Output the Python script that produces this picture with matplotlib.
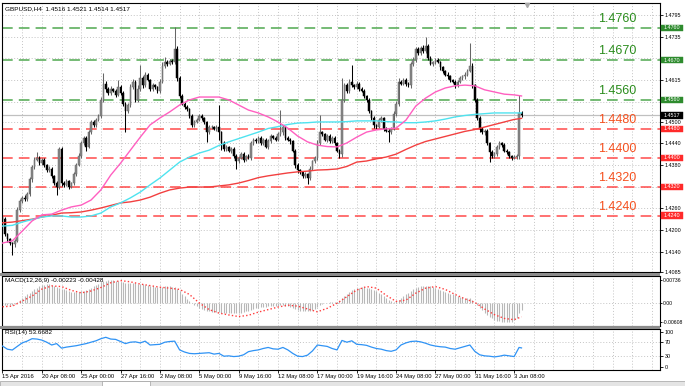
import numpy as np
import matplotlib
matplotlib.use("Agg")
import matplotlib.pyplot as plt
from matplotlib.transforms import blended_transform_factory
from matplotlib.patches import Rectangle

plt.rcParams['font.family'] = ['Liberation Sans', 'DejaVu Sans']

# ---------------- data ----------------
open0 = 1.4235
closes = [
    1.4230, 1.4190, 1.4175, 1.4165, 1.4160, 1.4170, 1.4255, 1.4280, 1.4290, 1.4285, 1.4300, 1.4340, 1.4375, 1.4395, 1.4400, 1.4385,
    1.4395, 1.4380, 1.4365, 1.4370, 1.4350, 1.4330, 1.4320, 1.4425, 1.4330, 1.4325, 1.4335, 1.4320, 1.4330, 1.4355, 1.4380, 1.4405,
    1.4440, 1.4455, 1.4430, 1.4470, 1.4500, 1.4490, 1.4505, 1.4515, 1.4560, 1.4605, 1.4590, 1.4580, 1.4590, 1.4585, 1.4575, 1.4595,
    1.4580, 1.4550, 1.4530, 1.4545, 1.4595, 1.4610, 1.4560, 1.4590, 1.4620, 1.4600, 1.4630, 1.4615, 1.4590, 1.4600, 1.4595, 1.4585,
    1.4610, 1.4655, 1.4665, 1.4660, 1.4668, 1.4665, 1.4700, 1.4620, 1.4570, 1.4550, 1.4540, 1.4535, 1.4515, 1.4490, 1.4500, 1.4505,
    1.4515, 1.4510, 1.4500, 1.4470, 1.4485, 1.4485, 1.4480, 1.4485, 1.4470, 1.4440, 1.4425, 1.4430, 1.4420, 1.4425, 1.4405, 1.4390,
    1.4400, 1.4410, 1.4395, 1.4405, 1.4400, 1.4440, 1.4450, 1.4445, 1.4455, 1.4440, 1.4450, 1.4430, 1.4445, 1.4460, 1.4455, 1.4450,
    1.4465, 1.4470, 1.4485, 1.4455, 1.4450, 1.4445, 1.4420, 1.4380, 1.4365, 1.4360, 1.4350, 1.4355, 1.4345, 1.4370, 1.4390, 1.4400,
    1.4440, 1.4470, 1.4465, 1.4450, 1.4460, 1.4445, 1.4455, 1.4440, 1.4420, 1.4410, 1.4560, 1.4600, 1.4585, 1.4610, 1.4600, 1.4595,
    1.4605, 1.4590, 1.4585, 1.4570, 1.4560, 1.4530, 1.4510, 1.4490, 1.4485, 1.4505, 1.4510, 1.4480, 1.4475, 1.4470, 1.4480, 1.4520,
    1.4550, 1.4610, 1.4605, 1.4615, 1.4605, 1.4600, 1.4660, 1.4670, 1.4700, 1.4690, 1.4705, 1.4695, 1.4710, 1.4675, 1.4660, 1.4665,
    1.4670, 1.4665, 1.4650, 1.4640, 1.4630, 1.4625, 1.4615, 1.4610, 1.4600, 1.4610, 1.4620, 1.4625, 1.4630, 1.4640, 1.4655, 1.4600,
    1.4560, 1.4510, 1.4480, 1.4470, 1.4475, 1.4440, 1.4415, 1.4405, 1.4410, 1.4430, 1.4440, 1.4435, 1.4420, 1.4415, 1.4405, 1.4400,
    1.4402, 1.4405, 1.4525, 1.4517,
]
upper_wick_pips = [
    4, 5, 3, 4, 3, 6, 8, 5, 4, 6, 5, 6, 5, 7, 16, 4,
    5, 4, 3, 6, 4, 3, 5, 5, 4, 5, 6, 3, 4, 6, 5, 7,
    6, 5, 4, 6, 5, 4, 6, 7, 8, 30, 6, 5, 8, 4, 5, 20,
    5, 4, 5, 6, 8, 7, 4, 10, 37, 6, 8, 5, 4, 6, 5, 4,
    8, 10, 15, 6, 5, 6, 62, 8, 5, 6, 4, 5, 4, 6, 5, 4,
    6, 5, 4, 3, 5, 6, 4, 5, 61, 4, 5, 4, 3, 5, 4, 5,
    4, 6, 5, 4, 5, 6, 5, 4, 6, 5, 4, 5, 6, 5, 4, 5,
    6, 62, 5, 4, 5, 4, 3, 4, 5, 4, 3, 5, 4, 6, 5, 6,
    8, 48, 5, 4, 6, 5, 4, 5, 4, 5, 60, 8, 6, 7, 47, 5,
    8, 5, 6, 4, 5, 4, 3, 5, 4, 6, 5, 4, 5, 4, 6, 8,
    8, 10, 6, 5, 7, 5, 6, 8, 6, 7, 5, 6, 25, 5, 6, 4,
    5, 6, 4, 5, 4, 6, 5, 4, 5, 6, 5, 4, 6, 5, 63, 6,
    5, 4, 6, 5, 4, 5, 4, 6, 5, 6, 5, 4, 5, 4, 5, 4,
    5, 6, 48, 4,
]
lower_wick_pips = [
    5, 6, 8, 6, 29, 7, 4, 5, 6, 5, 4, 5, 6, 5, 4, 6,
    5, 6, 5, 4, 5, 6, 23, 6, 8, 5, 4, 6, 5, 4, 5, 4,
    5, 6, 10, 4, 5, 6, 5, 4, 6, 5, 8, 6, 5, 4, 6, 5,
    6, 7, 59, 5, 4, 6, 7, 5, 4, 6, 5, 4, 6, 5, 4, 6,
    5, 4, 6, 5, 4, 5, 6, 8, 6, 5, 4, 5, 6, 5, 4, 5,
    4, 5, 6, 27, 4, 5, 4, 6, 20, 19, 6, 5, 4, 6, 5, 20,
    5, 4, 6, 5, 4, 5, 6, 5, 4, 6, 5, 4, 6, 5, 4, 5,
    4, 5, 6, 5, 4, 6, 5, 8, 6, 5, 6, 5, 18, 6, 5, 4,
    5, 6, 4, 5, 6, 5, 4, 6, 5, 10, 8, 6, 5, 6, 5, 4,
    5, 6, 4, 5, 6, 5, 6, 7, 5, 4, 5, 6, 5, 27, 5, 4,
    5, 6, 5, 4, 6, 5, 6, 5, 4, 6, 5, 4, 6, 5, 4, 6,
    5, 4, 6, 5, 4, 6, 5, 4, 6, 5, 4, 5, 6, 5, 4, 6,
    5, 6, 8, 5, 6, 4, 28, 6, 5, 4, 6, 5, 4, 5, 6, 5,
    4, 5, 8, 4,
]

# moving averages, sampled every 4 bars plus the last bar
ma_pink = [1.4164, 1.4170, 1.4197, 1.4225, 1.4242, 1.4244, 1.4255, 1.4264, 1.4269, 1.4283,
           1.4311, 1.4352, 1.4385, 1.4421, 1.4457, 1.4491, 1.4510, 1.4527, 1.4546, 1.4560,
           1.4568, 1.4568, 1.4568, 1.4560, 1.4546, 1.4532, 1.4524, 1.4513, 1.4499, 1.4482,
           1.4460, 1.4444, 1.4435, 1.4431, 1.4430, 1.4441, 1.4457, 1.4471, 1.4477, 1.4480,
           1.4482, 1.4504, 1.4543, 1.4565, 1.4582, 1.4593, 1.4599, 1.4601, 1.4599, 1.4588,
           1.4582, 1.4576, 1.4574, 1.4571]
ma_cyan = [1.4211, 1.4213, 1.4222, 1.4229, 1.4236, 1.4239, 1.4239, 1.4236, 1.4236, 1.4239,
           1.4247, 1.4264, 1.4275, 1.4289, 1.4305, 1.4325, 1.4344, 1.4366, 1.4388, 1.4402,
           1.4413, 1.4421, 1.4434, 1.4444, 1.4453, 1.4462, 1.4471, 1.4481, 1.4486, 1.4492,
           1.4496, 1.4497, 1.4499, 1.4499, 1.4499, 1.4500, 1.4502, 1.4502, 1.4502, 1.4500,
           1.4499, 1.4497, 1.4497, 1.4499, 1.4502, 1.4507, 1.4513, 1.4517, 1.4520, 1.4522,
           1.4524, 1.4524, 1.4524, 1.4524]
ma_red = [1.4220, 1.4222, 1.4226, 1.4230, 1.4236, 1.4241, 1.4247, 1.4248, 1.4250, 1.4255,
          1.4261, 1.4268, 1.4275, 1.4278, 1.4283, 1.4291, 1.4302, 1.4311, 1.4316, 1.4319,
          1.4319, 1.4319, 1.4322, 1.4325, 1.4330, 1.4337, 1.4345, 1.4350, 1.4354, 1.4358,
          1.4361, 1.4363, 1.4366, 1.4367, 1.4369, 1.4376, 1.4388, 1.4391, 1.4397, 1.4402,
          1.4410, 1.4423, 1.4435, 1.4445, 1.4452, 1.4459, 1.4466, 1.4473, 1.4478, 1.4485,
          1.4492, 1.4499, 1.4506, 1.4509]

# MACD main (histogram), per bar, in units of 1e-4
macd_e4 = [
    -5, -6, -6, -5, -4, -2, 5, 10, 16, 22, 28, 34, 40, 46, 50, 54,
    57, 59, 60, 60, 58, 55, 52, 50, 46, 44, 41, 39, 37, 36, 36, 37,
    38, 40, 42, 45, 50, 54, 58, 62, 66, 70, 72, 73.6, 73.6, 73, 71, 70,
    68, 66, 64, 63, 63, 64, 63, 62, 61, 60, 59, 58, 56, 54, 53, 52,
    52, 53, 54, 54, 54, 53, 52, 46, 38, 30, 22, 14, 8, 1, -5, -10,
    -14, -18, -21, -24, -26, -27, -28, -29, -29, -30, -31, -31, -32, -32, -32, -32,
    -31, -30, -28, -26, -23, -20, -18, -16, -14, -13, -12, -11, -10, -9, -9, -8,
    -8, -7, -7, -8, -10, -12, -15, -18, -21, -23, -25, -26, -26, -24, -21, -17,
    -12, -7, -3, 0, 2, 3, 4, 4, 5, 8, 16, 24, 31, 37, 42, 45,
    48, 50, 51, 51, 50, 48, 46, 43, 39, 34, 28, 22, 16, 11, 7, 5,
    6, 10, 16, 22, 28, 34, 40, 46, 50, 53, 55, 56, 56, 55, 54, 52,
    49, 46, 43, 40, 37, 34, 31, 28, 25, 22, 20, 19, 18, 17, 16, 10,
    2, -6, -14, -22, -30, -37, -43, -48, -52, -55, -57, -59, -60, -60.8, -60, -58,
    -54, -46, -30, -22.3,
]
# MACD signal, every 4 bars plus last bar, units of 1e-4
signal_e4 = [-11, -9, 7, 23, 45, 55, 53, 41, 33, 39, 50, 65, 72, 68, 61, 56, 51, 48, 44, 28,
             1, -20, -31, -37, -42, -38, -28, -20, -12, -6, -9, -18, -27, -16, 0, 21, 42, 53,
             48, 25, 6, 10, 32, 48, 53, 44, 28, 14, 3, -18, -36, -48, -52, -42.8]

# RSI(14), every 2 bars plus last bar
rsi = [59, 50, 47.7, 58, 68, 73, 80, 79, 76, 70, 62, 66, 53, 56, 58, 60,
       63, 66, 70, 74, 80, 84, 79, 78, 72, 66, 70, 71, 68, 73, 62, 63,
       64, 70, 72, 73, 48, 42, 38, 37, 38, 39, 40, 36, 38, 30, 31, 29,
       30, 34, 43, 46, 48, 52, 55, 51, 50, 55, 48, 38, 30, 29, 33, 45,
       62, 60, 58, 52, 48, 75, 70, 74, 64, 63, 61, 56, 52, 50, 46, 44,
       48, 62, 68, 72, 73, 71, 67, 62, 59, 57, 56, 52, 50, 54, 58, 62,
       44, 34, 31, 30, 28, 30, 33, 31, 29, 55, 53.6682]

green_levels = [1.4760, 1.4670, 1.4560]
red_levels = [1.4480, 1.4400, 1.4320, 1.4240]
last_price = 1.4517
price_ticks = [1.4795, 1.4735, 1.4675, 1.4615, 1.4555, 1.4500, 1.4440, 1.4380, 1.4320,
               1.4260, 1.4200, 1.4140, 1.4085]
price_tick_labels = ["1.4795", "1.4735", "", "1.4615", "", "1.4500", "1.4440", "1.4380", "",
                     "1.4260", "1.4200", "1.4140", "1.4085"]
time_labels = ["15 Apr 2016", "20 Apr 08:00", "25 Apr 00:00", "27 Apr 16:00", "2 May 08:00",
               "5 May 00:00", "9 May 16:00", "12 May 08:00", "17 May 00:00", "19 May 16:00",
               "24 May 08:00", "27 May 00:00", "31 May 16:00", "3 Jun 08:00"]
header = "GBPUSD,H4  1.4516 1.4521 1.4514 1.4517"

# ---------------- derived ----------------
closes = np.array(closes)
n = len(closes)
idx = np.arange(n)
opens = np.concatenate([[open0], closes[:-1]])
highs = np.maximum(opens, closes) + np.array(upper_wick_pips) * 1e-4
lows = np.minimum(opens, closes) - np.array(lower_wick_pips) * 1e-4
ma_idx = np.concatenate([np.arange(0, n - 3, 4), [n - 1]])
rsi_idx = np.concatenate([np.arange(0, n - 1, 2), [n - 1]])
macd = np.array(macd_e4) * 1e-4
signal = np.array(signal_e4) * 1e-4

# ---------------- figure ----------------
W, H = 685, 386
fig = plt.figure(figsize=(W / 100, H / 100), dpi=100)
fig.patch.set_facecolor('white')

def fy(py):
    return 1 - py / H

L, R = 2, 660
ax = fig.add_axes([L / W, fy(272), (R - L) / W, (272 - 3) / H])
axm = fig.add_axes([L / W, fy(326), (R - L) / W, (326 - 276) / H], sharex=ax)
axr = fig.add_axes([L / W, fy(370), (R - L) / W, (370 - 329) / H], sharex=ax)

ax.set_xlim(-0.2, 267.3)
ax.set_ylim(1.40839, 1.48282)
axm.set_ylim(-0.0072, 0.00865)
axr.set_ylim(-9.4, 107.7)

grid_kw = dict(color='#c4c4c4', lw=0.7, ls=(0, (1, 2)), zorder=0.5)
vgrid = np.arange(8, 268, 8)
for a in (ax, axm, axr):
    for g in vgrid:
        a.axvline(g, **grid_kw)
    for s in a.spines.values():
        s.set_color('black')
        s.set_linewidth(0.8)
    a.set_facecolor('white')

for p in price_ticks[:-1]:
    ax.axhline(p, **grid_kw)
axm.axhline(0, **grid_kw)
axr.axhline(70, **grid_kw)
axr.axhline(30, **grid_kw)

# level lines
for lv in green_levels:
    ax.axhline(lv, color='#4fa84f', lw=1.1, ls=(0, (7, 4)), zorder=1.5)
for lv in red_levels:
    ax.axhline(lv, color='#ff4a4a', lw=1.1, ls=(0, (7, 4)), zorder=1.5)
ax.axhline(last_price, color='#c0c0c0', lw=0.9, zorder=1.2)

# candles
bull = closes >= opens
wick_cols = np.where(bull, '#666666', '#000000')
body_cols = np.where(bull, '#888888', '#000000')
ax.vlines(idx, lows, highs, colors=wick_cols, lw=0.75, zorder=2)
heights = closes - opens
heights = np.where(np.abs(heights) < 0.00008, 0.00008, heights)
ax.bar(idx, heights, bottom=opens, width=0.66, color=body_cols,
       edgecolor=wick_cols, linewidth=0.35, zorder=2.1)

# moving averages
ax.plot(ma_idx, ma_red, color='#f24040', lw=1.0, zorder=3)
ax.plot(ma_idx, ma_cyan, color='#4fe3ef', lw=1.0, zorder=3)
ax.plot(ma_idx, ma_pink, color='#ff5fc0', lw=1.0, zorder=3)

# level text labels
btr = blended_transform_factory(ax.transAxes, ax.transData)
for lv in green_levels:
    ax.annotate(f"{lv:.4f}", xy=((598 - L) / (R - L), lv), xycoords=btr,
                xytext=(0, 2.2), textcoords='offset points', ha='left', va='bottom',
                fontsize=9, color='#2a8c1c', zorder=6)
for lv in red_levels:
    ax.annotate(f"{lv:.4f}", xy=((598 - L) / (R - L), lv), xycoords=btr,
                xytext=(0, 2.2), textcoords='offset points', ha='left', va='bottom',
                fontsize=9, color='#f5501e', zorder=6)

# right axis
ax.yaxis.tick_right()
ax.set_yticks(price_ticks)
ax.set_yticklabels(price_tick_labels)
ax.tick_params(axis='y', labelsize=3.9, length=2, pad=1.2, width=0.6)
ax.tick_params(axis='x', bottom=False, labelbottom=False)

box_h = 6.2 / 269 * (1.48282 - 1.40839)
def price_box(price, color):
    x0 = (661 - L) / (R - L)
    wdt = (683 - 661) / (R - L)
    ax.add_patch(Rectangle((x0, price - box_h / 2), wdt, box_h, transform=btr,
                           facecolor=color, edgecolor=color, lw=0.3, clip_on=False, zorder=7))
    ax.text(x0 + wdt / 2, price, f"{price:.4f}", transform=btr, ha='center', va='center',
            fontsize=3.9, color='white', zorder=8, clip_on=False)

for lv in green_levels:
    price_box(lv, '#2e8b2e')
for lv in red_levels:
    price_box(lv, '#ff2a2a')
price_box(last_price, '#000000')

ax.text(3 / (R - L), 1 - 6 / 269, header, transform=ax.transAxes, fontsize=4.6,
        ha='left', va='center', color='black')
ax.plot([(527 - L) / (R - L)], [1 - 2.5 / 269], marker='v', ms=3, color='#a8a8a8',
        transform=ax.transAxes, clip_on=False, zorder=9)

# MACD panel
axm.vlines(idx, 0, macd, colors='#b8b8b8', lw=0.8, zorder=2)
axm.plot(np.concatenate([np.arange(0, n - 3, 4), [n - 1]]), signal, color='#ff3c3c',
         lw=1.0, ls=(0, (1, 1.6)), zorder=3)
axm.yaxis.tick_right()
axm.set_yticks([0.00736, 0.0, -0.00608])
axm.set_yticklabels(["0.00736", "0.00", "-0.00608"])
axm.tick_params(axis='y', labelsize=3.7, length=1.5, pad=0.8, width=0.6)
axm.tick_params(axis='x', bottom=False, labelbottom=False)
axm.text(3 / (R - L), (326 - 280.7) / 50, "MACD(12,26,9) -0.00223 -0.00428",
         transform=axm.transAxes, fontsize=4.6, ha='left', va='center')

# RSI panel
axr.plot(rsi_idx, rsi, color='#2f93f5', lw=0.9, zorder=3)
axr.yaxis.tick_right()
axr.set_yticks([100, 70, 30, 0])
axr.set_yticklabels(["100", "70", "30", "0"])
axr.tick_params(axis='y', labelsize=3.9, length=2, pad=1.2, width=0.6)
axr.text(3 / (R - L), (370 - 332.7) / 41, "RSI(14) 53.6682",
         transform=axr.transAxes, fontsize=4.6, ha='left', va='center')
axr.set_xticks(np.arange(0, 16 * len(time_labels), 16))
axr.set_xticklabels(time_labels)
axr.tick_params(axis='x', labelsize=4.2, length=2, pad=1.2, width=0.6)
for lbl in axr.get_xticklabels():
    lbl.set_horizontalalignment('left')

# panel separators (chart width only) and bottom tab bar
for (y0, y1) in [(272.5, 275.5), (326.3, 328.7)]:
    fig.patches.append(Rectangle((0, fy(y1)), R / W, (y1 - y0) / H, transform=fig.transFigure,
                                 facecolor='#8c8c8c', edgecolor='none', zorder=10))
fig.patches.append(Rectangle((0, 0), 1, 5.5 / H, transform=fig.transFigure,
                             facecolor='#e4e4e4', edgecolor='#a0a0a0', lw=0.5, zorder=10))
fig.patches.append(Rectangle((102 / W, 0), 48 / W, 5.5 / H, transform=fig.transFigure,
                             facecolor='white', edgecolor='#a0a0a0', lw=0.5, zorder=11))

fig.savefig("out.png", dpi=100)
